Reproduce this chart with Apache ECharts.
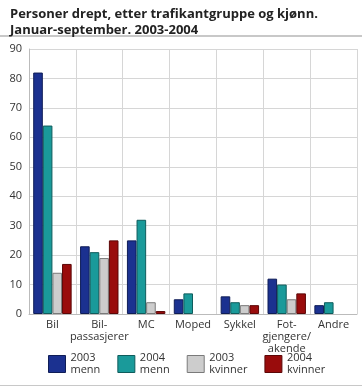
<!DOCTYPE html>
<html><head><meta charset="utf-8">
<script src="https://cdn.jsdelivr.net/npm/echarts@6/dist/echarts.min.js"></script>
<style>html,body{margin:0;padding:0;background:#fff}#c{width:362px;height:387px}</style>
</head><body><div id="c"></div>
<script>
const categories = ['Bil', 'Bil-\npassasjerer', 'MC', 'Moped', 'Sykkel', 'Fot-\ngjengere/\nakende', 'Andre'];
const seriesNames = ['2003\nmenn', '2004\nmenn', '2003\nkvinner', '2004\nkvinner'];
const menn2003 = [82, 23, 25, 5, 6, 12, 3];
const menn2004 = [64, 21, 32, 7, 4, 10, 4];
const kvinner2003 = [14, 19, 4, 0, 3, 5, 0];
const kvinner2004 = [17, 25, 1, 0, 3, 7, 0];
const yTicks = [0, 10, 20, 30, 40, 50, 60, 70, 80, 90];

const colors = ['#1b3190', '#1a9a9a', '#cdcdcd', '#990c0c'];
const borders = ['#0f1d57', '#0f5c5c', '#7a7a7a', '#5c0707'];
const values = [menn2003, menn2004, kvinner2003, kvinner2004];
const font = '"Open Sans", "Noto Sans", sans-serif';

const chart = echarts.init(document.getElementById('c'), null, {renderer: 'canvas'});
chart.setOption({
  animation: false,
  textStyle: {fontFamily: font},
  title: {
    text: 'Personer drept, etter trafikantgruppe og kjønn.\nJanuar-september. 2003-2004',
    left: 5, top: 1,
    textStyle: {fontSize: 13, fontWeight: 'bold', color: '#222', lineHeight: 16, fontFamily: font}
  },
  graphic: [
    {type: 'rect', shape: {x: 0, y: 35, width: 362, height: 2}, style: {fill: '#c8c8c8'}},
    {type: 'rect', shape: {x: 0, y: 385, width: 362, height: 1}, style: {fill: '#c8c8c8'}}
  ],
  legend: {
    bottom: 6, left: 43,
    icon: 'rect',
    itemWidth: 17, itemHeight: 17, itemGap: 17,
    data: seriesNames,
    textStyle: {fontSize: 11, color: '#333', lineHeight: 12, fontFamily: font},
    itemStyle: {borderWidth: 1}
  },
  grid: {left: 29, right: 5, top: 49, bottom: 73, containLabel: false},
  xAxis: {
    type: 'category', data: categories,
    axisLine: {lineStyle: {color: '#bbb'}},
    axisTick: {show: false},
    splitLine: {show: true, lineStyle: {color: '#d6d6d6', width: 1}},
    axisLabel: {fontSize: 11, color: '#333', lineHeight: 12, margin: 5, interval: 0, fontFamily: font}
  },
  yAxis: {
    type: 'value', min: 0, max: 90, interval: 10,
    axisLine: {show: true, lineStyle: {color: '#bbb'}},
    axisTick: {show: false},
    splitLine: {lineStyle: {color: '#d6d6d6', width: 1}},
    axisLabel: {fontSize: 11, color: '#333', margin: 7, fontFamily: font,
      formatter: v => yTicks.includes(v) ? String(v) : ''}
  },
  series: seriesNames.map((n, i) => ({
    name: n, type: 'bar',
    data: values[i].map(v => v === 0 ? {value: v, itemStyle: {borderWidth: 0, opacity: 0}} : v),
    barGap: '0%', barCategoryGap: '18%',
    itemStyle: {color: colors[i], borderColor: borders[i], borderWidth: 1}
  }))
});
</script></body></html>
